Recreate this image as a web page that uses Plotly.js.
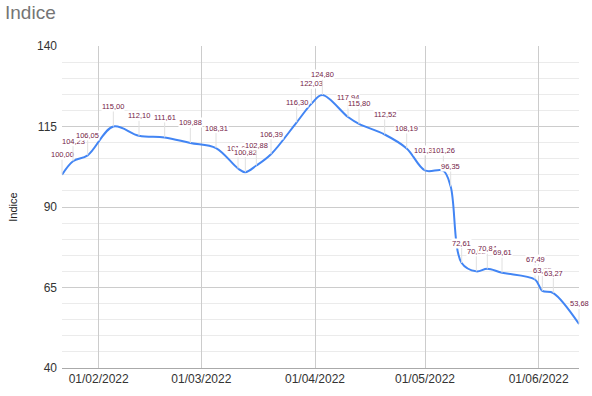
<!DOCTYPE html>
<html>
<head>
<meta charset="utf-8">
<script src="https://cdn.plot.ly/plotly-3.0.1.min.js"></script>
<style>html,body{margin:0;padding:0;background:#fff;}#chart{width:592px;height:396px;}</style>
</head>
<body>
<div id="chart"></div>
<script>
const dates = ["2022-01-22","2022-01-25","2022-01-29","2022-02-05","2022-02-12","2022-02-19","2022-02-26",
  "2022-03-05","2022-03-11","2022-03-13","2022-03-16","2022-03-20","2022-03-27","2022-03-31","2022-04-03",
  "2022-04-10","2022-04-13","2022-04-20","2022-04-26","2022-05-01","2022-05-06","2022-05-08","2022-05-11",
  "2022-05-15","2022-05-18","2022-05-22","2022-05-31","2022-06-02","2022-06-05","2022-06-12"];
const values = [100.00,104.23,106.05,115.00,112.10,111.61,109.88,
  108.31,101.95,100.82,102.88,106.39,116.30,122.03,124.80,
  117.94,115.80,112.52,108.19,101.35,101.26,96.35,72.61,
  70.02,70.84,69.61,67.49,63.95,63.27,53.68];
const yTicks = [40,65,90,115,140];
const seriesName = "Indice";

const fmt = v => v.toFixed(2).replace(".", ",");

const annotations = dates.map((d, i) => ({
  x: d, y: values[i], xref: "x", yref: "y",
  text: fmt(values[i]),
  showarrow: true, arrowhead: 0, arrowwidth: 1, arrowcolor: "#e0e0e0",
  ax: 0, ay: -20, standoff: 0,
  bgcolor: "#ffffff", borderpad: 0,
  font: {family: "Liberation Sans, Arial, sans-serif", size: 7.5, color: "#741b47"}
}));

const trace = {
  x: dates, y: values, type: "scatter", mode: "lines", name: seriesName,
  line: {color: "#4285f4", width: 2, shape: "spline", smoothing: 1},
  hoverinfo: "skip"
};

const layout = {
  width: 592, height: 396,
  margin: {l: 62, r: 13, t: 46, b: 28, pad: 0},
  paper_bgcolor: "#fff", plot_bgcolor: "#fff",
  showlegend: false,
  font: {family: "Liberation Sans, Arial, sans-serif", color: "#333", size: 12},
  title: {text: "Indice", x: 0, xref: "container", xanchor: "left", y: 1, yref: "container", yanchor: "top",
          pad: {l: 5, t: 6}, font: {size: 19, color: "#757575", family: "Liberation Sans, Arial, sans-serif"}, automargin: false},
  xaxis: {
    type: "date", range: [dates[0], dates[dates.length - 1]],
    tickformat: "%d/%m/%Y", dtick: "M1", tick0: "2022-02-01",
    showgrid: true, gridcolor: "#cccccc", gridwidth: 1,
    showline: true, linecolor: "#aaaaaa", linewidth: 1,
    ticks: "", zeroline: false, fixedrange: true,
    tickfont: {size: 12, color: "#333"}
  },
  yaxis: {
    range: [40, 140], tickvals: yTicks, ticktext: yTicks.map(String),
    showgrid: true, gridcolor: "#cccccc", gridwidth: 1,
    minor: {dtick: 5, tick0: 40, showgrid: true, gridcolor: "#ebebeb", gridwidth: 1},
    ticks: "", zeroline: false, showline: false, fixedrange: true,
    ticklabelstandoff: 4,
    tickfont: {size: 12, color: "#333"},
    title: {text: "Indice", standoff: 17, font: {size: 11, color: "#222"}}
  },
  annotations: annotations
};

Plotly.newPlot("chart", [trace], layout, {staticPlot: true, displayModeBar: false});
</script>
</body>
</html>
